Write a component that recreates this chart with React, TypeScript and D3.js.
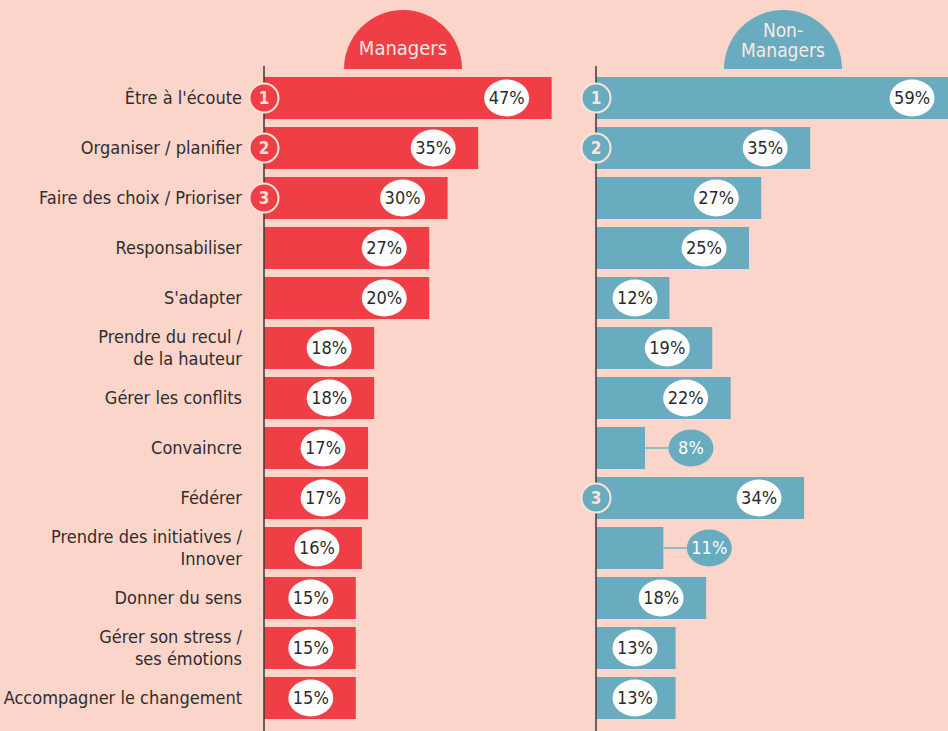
import * as d3 from "d3";

// data
const categories = [
  "Être à l'écoute",
  "Organiser / planifier",
  "Faire des choix / Prioriser",
  "Responsabiliser",
  "S'adapter",
  "Prendre du recul /\nde la hauteur",
  "Gérer les conflits",
  "Convaincre",
  "Fédérer",
  "Prendre des initiatives /\nInnover",
  "Donner du sens",
  "Gérer son stress /\nses émotions",
  "Accompagner le changement",
];
const managers = [47, 35, 30, 27, 20, 18, 18, 17, 17, 16, 15, 15, 15];
// bar lengths as drawn in the source (S'adapter bar is drawn at 27)
const managersBars = [47, 35, 30, 27, 27, 18, 18, 17, 17, 16, 15, 15, 15];
const nonManagers = [59, 35, 27, 25, 12, 19, 22, 8, 34, 11, 18, 13, 13];
const managersRank = [1, 2, 3, 0, 0, 0, 0, 0, 0, 0, 0, 0, 0];
const nonManagersRank = [1, 2, 0, 0, 0, 0, 0, 0, 3, 0, 0, 0, 0];

const W = 948;
const H = 731;
const BG = "#fbd5ca";
const RED = "#ef3e45";
const TEAL = "#69abbf";
const FONT = "'DejaVu Sans Condensed', 'Liberation Sans Narrow', sans-serif";

function Panel(props: { x0: number; bars: number[]; labels: number[]; ranks: number[]; color: string; y: any }) {
  const { x0, bars, labels, ranks, color, y } = props;
  const x = d3.scaleLinear().domain([0, 50]).range([x0, x0 + 306]);
  const bw = y.bandwidth();
  return (
    <g>
      {bars.map((v, i) => {
        const cy = y(categories[i]) + bw / 2;
        const end = x(v);
        const outside = end - x0 < 70;
        const cx = outside ? end + 46 : Math.max(end - 45, x0 + 39);
        return (
          <g key={i}>
            <rect x={x0} y={y(categories[i])} width={end - x0} height={bw} fill={color} />
            {outside && <line x1={end} x2={cx - 22} y1={cy} y2={cy} stroke="#8cc0cf" strokeWidth={2} />}
            <ellipse cx={cx} cy={cy} rx={22.5} ry={18.5} fill={outside ? color : "#fff"} />
            <text x={cx} y={cy} dy="0.35em" textAnchor="middle" fontSize={18}
              fill={outside ? "#fff" : "#2b2b2b"}>{labels[i]}%</text>
          </g>
        );
      })}
      <line x1={x0} x2={x0} y1={66} y2={H} stroke="#3a3a3a" strokeWidth={1.5} />
      {ranks.map((r, i) => r ? (
        <g key={"r" + i}>
          <circle cx={x0} cy={y(categories[i]) + bw / 2} r={14.5} fill={color} stroke="#fde3da" strokeWidth={2} />
          <text x={x0} y={y(categories[i]) + bw / 2} dy="0.36em" textAnchor="middle" fontSize={17}
            fontWeight="bold" fill="#fde3da">{r}</text>
        </g>
      ) : null)}
    </g>
  );
}

export default function App() {
  const y = d3.scaleBand().domain(categories).range([73, 723]).paddingInner(0.16).paddingOuter(0.08);
  const bw = y.bandwidth();
  const dome = (cx: number) => {
    const arc = d3.arc()({ innerRadius: 0, outerRadius: 59, startAngle: -Math.PI / 2, endAngle: Math.PI / 2 });
    return <path d={arc} transform={`translate(${cx},69)`} />;
  };
  return (
    <div style={{ position: "absolute", left: 0, top: 0 }}>
      <svg width={W} height={H} style={{ display: "block", fontFamily: FONT }}>
        <rect width={W} height={H} fill={BG} />
        <g fill={RED}>{dome(403)}</g>
        <g fill={TEAL}>{dome(783)}</g>
        <text x={403} y={55} textAnchor="middle" fontSize={20} fill="#fde8e1">Managers</text>
        <text x={783} y={37} textAnchor="middle" fontSize={19} fill="#fde8e1">Non-</text>
        <text x={783} y={57} textAnchor="middle" fontSize={19} fill="#fde8e1">Managers</text>
        {categories.map((c, i) => {
          const lines = c.split("\n");
          const cy = y(c) + bw / 2;
          return (
            <text key={c} x={242} textAnchor="end" fontSize={18} fill="#2e2e2e">
              {lines.map((l, j) => (
                <tspan key={j} x={242} y={cy + (j - (lines.length - 1) / 2) * 22} dy="0.36em">{l}</tspan>
              ))}
            </text>
          );
        })}
        <Panel x0={264} bars={managersBars} labels={managers} ranks={managersRank} color={RED} y={y} />
        <Panel x0={596} bars={nonManagers} labels={nonManagers} ranks={nonManagersRank} color={TEAL} y={y} />
      </svg>
    </div>
  );
}
